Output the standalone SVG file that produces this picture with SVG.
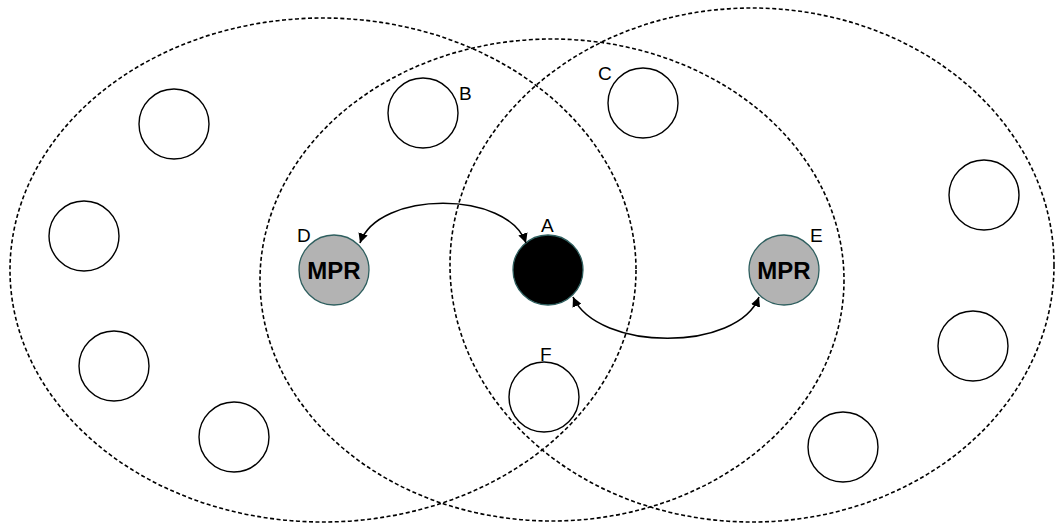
<svg xmlns="http://www.w3.org/2000/svg" width="1058" height="526" viewBox="0 0 1058 526">
  <style>
    .range { fill: none; stroke: #000; stroke-width: 1.6; stroke-dasharray: 4 2.5; }
    .node { fill: #fff; stroke: #000; stroke-width: 1.4; }
    .mpr { fill: #b3b3b3; stroke: #2f5f5f; stroke-width: 1.3; }
    .origin { fill: #000; stroke: #2f5f5f; stroke-width: 1.3; }
    .label { font-family: "Liberation Sans", Arial, sans-serif; font-size: 19px; fill: #000; }
    .tag { font-family: "Liberation Sans", Arial, sans-serif; font-size: 24px; font-weight: bold; fill: #000; text-anchor: middle; }
    .link { fill: none; stroke: #000; stroke-width: 1.6; marker-start: url(#head); marker-end: url(#head); }
  </style>
  <defs>
    <marker id="head" viewBox="0 0 10 10" refX="10" refY="5" markerWidth="6" markerHeight="6" markerUnits="strokeWidth" orient="auto-start-reverse">
      <path d="M0,0 L10,5 L0,10 Z" fill="#000"/>
    </marker>
  </defs>

  <rect width="1058" height="526" fill="#fff"/>

  <!-- radio ranges -->
  <g id="ranges">
    <ellipse class="range" cx="323" cy="270" rx="313" ry="252"/>
    <ellipse class="range" cx="552" cy="280" rx="292" ry="241"/>
    <ellipse class="range" cx="752" cy="265" rx="302" ry="257"/>
  </g>

  <!-- plain neighbours -->
  <g id="n1"><circle class="node" cx="174" cy="124" r="35"/></g>
  <g id="n2"><circle class="node" cx="84" cy="236" r="35"/></g>
  <g id="n3"><circle class="node" cx="114" cy="366" r="35"/></g>
  <g id="n4"><circle class="node" cx="234" cy="437" r="35"/></g>
  <g id="n5"><circle class="node" cx="984" cy="195" r="35"/></g>
  <g id="n6"><circle class="node" cx="973" cy="346" r="35"/></g>
  <g id="n7"><circle class="node" cx="843" cy="447" r="35"/></g>

  <g id="nodeB">
    <circle class="node" cx="423" cy="113" r="35"/>
    <text class="label" x="459" y="100">B</text>
  </g>
  <g id="nodeC">
    <circle class="node" cx="643" cy="103" r="35"/>
    <text class="label" x="598" y="80">C</text>
  </g>
  <g id="nodeF">
    <circle class="node" cx="544" cy="397" r="35"/>
    <text class="label" x="540" y="361">F</text>
  </g>

  <g id="nodeD">
    <circle class="mpr" cx="334" cy="270" r="35"/>
    <text class="tag" x="334" y="279">MPR</text>
    <text class="label" x="297" y="242">D</text>
  </g>
  <g id="nodeA">
    <circle class="origin" cx="548" cy="270" r="35"/>
    <text class="label" x="541" y="232">A</text>
  </g>
  <g id="nodeE">
    <circle class="mpr" cx="784" cy="270" r="35"/>
    <text class="tag" x="784" y="279">MPR</text>
    <text class="label" x="810" y="242">E</text>
  </g>

  <!-- links between A and its MPRs -->
  <g id="connectors">
    <path class="link" d="M360,243 C378,190 508,190 526,243"/>
    <path class="link" d="M573,297 C598,352 738,352 759,297"/>
  </g>
</svg>
